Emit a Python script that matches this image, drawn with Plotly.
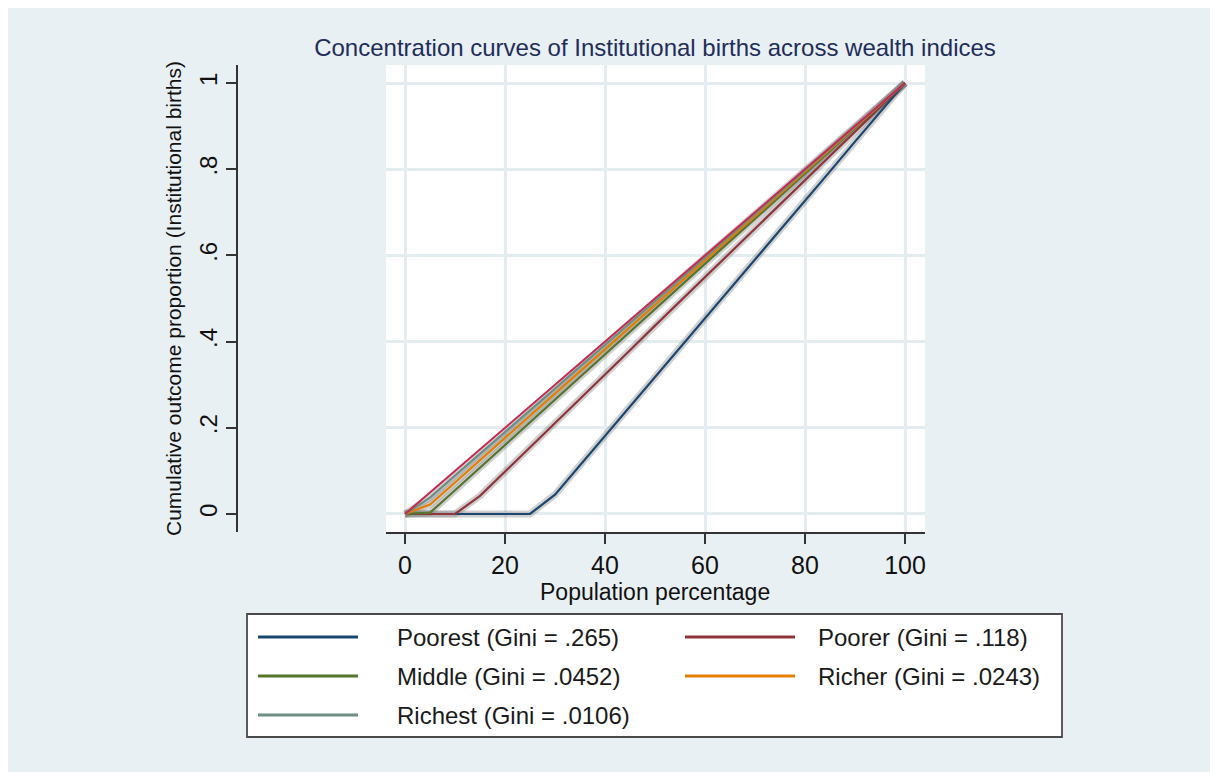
import plotly.graph_objects as go

# ---------------- data ----------------
pop_pct = [0, 5, 10, 15, 20, 25, 30, 35, 40, 45, 50, 55, 60, 65, 70, 75, 80, 85, 90, 95, 100]

poorest = [0, 0, 0, 0, 0, 0, 0.045, 0.113, 0.181, 0.250, 0.318, 0.386, 0.454, 0.522,
           0.591, 0.659, 0.727, 0.795, 0.864, 0.932, 1.0]
poorer = [0, 0, 0, 0.042, 0.098, 0.155, 0.211, 0.268, 0.324, 0.380, 0.437, 0.493, 0.549,
          0.606, 0.662, 0.718, 0.775, 0.831, 0.887, 0.944, 1.0]
middle = [0, 0.003, 0.055, 0.108, 0.160, 0.213, 0.265, 0.318, 0.370, 0.423, 0.475, 0.528,
          0.580, 0.633, 0.685, 0.738, 0.790, 0.843, 0.895, 0.948, 1.0]
richer = [0, 0.022, 0.073, 0.125, 0.176, 0.228, 0.279, 0.331, 0.382, 0.434, 0.485, 0.537,
          0.588, 0.640, 0.691, 0.743, 0.794, 0.846, 0.897, 0.949, 1.0]
richest = [0, 0.038, 0.089, 0.139, 0.190, 0.240, 0.291, 0.342, 0.392, 0.443, 0.493, 0.544,
           0.595, 0.645, 0.696, 0.747, 0.797, 0.848, 0.899, 0.949, 1.0]
equality_x = [0, 100]
equality_y = [0, 1]

series_names = ["Poorest (Gini = .265)", "Poorer (Gini = .118)", "Middle (Gini = .0452)",
                "Richer (Gini = .0243)", "Richest (Gini = .0106)"]
series_values = [poorest, poorer, middle, richer, richest]
series_colors = ["#1a476f", "#90353b", "#55752f", "#e37e00", "#6e8e84"]
equality_color = "#c8284f"

x_ticks = [0, 20, 40, 60, 80, 100]
x_tick_labels = ["0", "20", "40", "60", "80", "100"]
y_ticks = [0, 0.2, 0.4, 0.6, 0.8, 1.0]
y_tick_labels = ["0", ".2", ".4", ".6", ".8", "1"]

title_text = "Concentration curves of Institutional births across wealth indices"
x_title = "Population percentage"
y_title = "Cumulative outcome proportion (Institutional births)"

# ---------------- layout geometry ----------------
OFF = 8  # page body margin offset
W, H = 1218, 772
ML, MT = 237 - OFF, 65 - OFF
MR, MB = W - (925 - OFF), H - (532 - OFF)
PW, PH = W - ML - MR, H - MT - MB
plot_left_px = 386


def px2x(px):
    return (px - OFF - ML) / PW


def py2y(py):
    return (H - MB - (py - OFF)) / PH


BG = "#e9f0f3"
GRID = "#e3ecef"
FONT = "Liberation Sans, Arial, sans-serif"

fig = go.Figure()

# grey confidence-like bands under each curve
for vals in series_values:
    fig.add_trace(go.Scatter(x=pop_pct, y=vals, mode="lines",
                             line=dict(color="rgba(120,120,120,0.35)", width=7),
                             hoverinfo="skip", showlegend=False))

for name, vals, col in zip(series_names, series_values, series_colors):
    fig.add_trace(go.Scatter(x=pop_pct, y=vals, mode="lines", name=name,
                             line=dict(color=col, width=2.2), showlegend=False))

fig.add_trace(go.Scatter(x=equality_x, y=equality_y, mode="lines", name="Line of equality",
                         line=dict(color=equality_color, width=2), showlegend=False))

# ---------------- custom legend (Stata style) ----------------
shapes = []
annotations = []

shapes.append(dict(type="rect", xref="paper", yref="paper",
                   x0=px2x(247), x1=px2x(1062), y0=py2y(737), y1=py2y(614),
                   fillcolor="white", line=dict(color="#4a4a4a", width=1.8)))

col_line = [(258, 358, 395), (685, 795, 816)]
row_y = [637, 676, 715]
for i, (name, col) in enumerate(zip(series_names, series_colors)):
    r, c = divmod(i, 2)
    lx0, lx1, tx = col_line[c]
    yy = row_y[r]
    shapes.append(dict(type="line", xref="paper", yref="paper",
                       x0=px2x(lx0), x1=px2x(lx1), y0=py2y(yy), y1=py2y(yy),
                       line=dict(color=col, width=3)))
    annotations.append(dict(xref="paper", yref="paper", x=px2x(tx), y=py2y(yy),
                            xanchor="left", yanchor="middle", text=name, showarrow=False,
                            font=dict(family=FONT, size=24, color="#1a1a1a")))

# x-axis title placed like Stata's
annotations.append(dict(xref="paper", yref="paper", x=px2x(655), y=py2y(592),
                        xanchor="center", yanchor="middle", text=x_title, showarrow=False,
                        font=dict(family=FONT, size=23, color="#111111")))

fig.update_layout(
    width=W, height=H,
    margin=dict(l=ML, r=MR, t=MT, b=MB, pad=0),
    paper_bgcolor=BG,
    plot_bgcolor="white",
    showlegend=False,
    title=dict(text=title_text, x=px2x(655), xref="paper", xanchor="center",
               y=1 - (48 - OFF) / H, yref="container", yanchor="middle",
               font=dict(family=FONT, size=24, color="#1f2d5a")),
    xaxis=dict(domain=[px2x(plot_left_px), 1.0], range=[-3.8, 104],
               tickvals=x_ticks, ticktext=x_tick_labels,
               showgrid=True, gridcolor=GRID, gridwidth=2.5, zeroline=False,
               showline=True, linecolor="#333333", linewidth=1.5,
               ticks="outside", ticklen=10, tickwidth=1.5, tickcolor="#333333",
               tickfont=dict(family=FONT, size=25, color="#111111")),
    yaxis=dict(domain=[0, 1], range=[-0.0418, 1.0418], anchor="free", position=0,
               tickvals=y_ticks, ticktext=y_tick_labels, tickangle=-90,
               showgrid=True, gridcolor=GRID, gridwidth=2.5, zeroline=False,
               showline=True, linecolor="#333333", linewidth=1.5,
               ticks="outside", ticklen=10, tickwidth=1.5, tickcolor="#333333",
               tickfont=dict(family=FONT, size=24, color="#111111"),
               title=dict(text=y_title, standoff=6,
                          font=dict(family=FONT, size=21, color="#111111"))),
    shapes=shapes,
    annotations=annotations,
)

fig.write_html("out.html")
